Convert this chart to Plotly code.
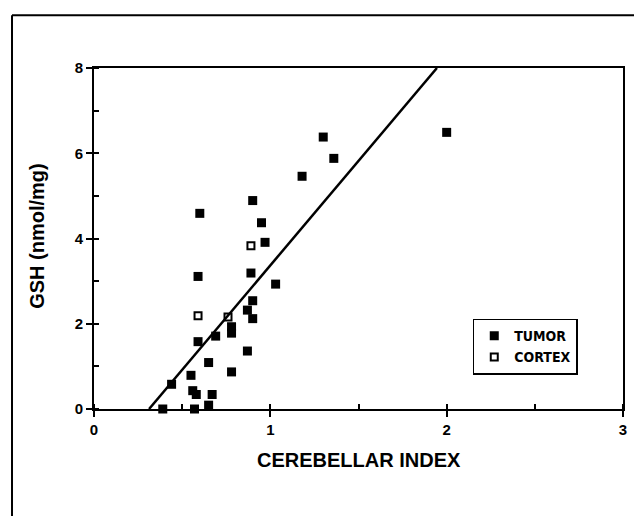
import plotly.graph_objects as go

# Data
tumor_x = [0.60, 0.90, 0.95, 0.97, 0.59, 0.89, 1.03, 0.90, 0.87, 0.90, 0.78, 0.78,
           0.69, 0.59, 0.87, 0.65, 0.78, 0.55, 0.44, 0.56, 0.58, 0.67, 0.65, 0.39,
           0.57, 1.30, 1.36, 1.18, 2.00]
tumor_y = [4.59, 4.89, 4.37, 3.91, 3.11, 3.19, 2.93, 2.54, 2.32, 2.12, 1.93, 1.78,
           1.71, 1.58, 1.36, 1.09, 0.87, 0.79, 0.58, 0.43, 0.34, 0.34, 0.09, 0.0,
           0.0, 6.38, 5.88, 5.46, 6.49]
cortex_x = [0.89, 0.59, 0.76]
cortex_y = [3.83, 2.19, 2.16]

# regression line y = slope * x + intercept
slope = 4.9
intercept = -1.53
y_ends = [0, 8]
line_x = [(y - intercept) / slope for y in y_ends]

x_ticks = [0, 1, 2, 3]
x_tick_labels = ["0", "1", "2", "3"]
y_ticks = [0, 2, 4, 6, 8]
y_tick_labels = ["0", "2", "4", "6", "8"]

FONT = "Liberation Sans"

fig = go.Figure()
fig.add_trace(go.Scatter(x=line_x, y=y_ends, mode="lines",
                         line=dict(color="black", width=2.5),
                         showlegend=False, cliponaxis=False))
fig.add_trace(go.Scatter(x=tumor_x, y=tumor_y, mode="markers", name="<b>TUMOR</b>",
                         marker=dict(symbol="square", size=9, color="black"),
                         cliponaxis=False))
fig.add_trace(go.Scatter(x=cortex_x, y=cortex_y, mode="markers", name="<b>CORTEX</b>",
                         marker=dict(symbol="square-open", size=7, color="black",
                                     line=dict(width=2, color="black")),
                         cliponaxis=False))

axis_common = dict(showline=True, linecolor="black", linewidth=2, mirror=True,
                   ticks="outside", ticklen=6, tickwidth=2, tickcolor="black",
                   showgrid=False, zeroline=False,
                   tickfont=dict(family=FONT, size=15, color="black"))

fig.update_xaxes(range=[0, 3], tickvals=x_ticks,
                 ticktext=["<b>%s</b>" % t for t in x_tick_labels],
                 minor=dict(dtick=0.5, ticks="inside", ticklen=5, tickwidth=2,
                            tickcolor="black", showgrid=False),
                 **axis_common)
fig.update_yaxes(range=[0, 8], tickvals=y_ticks,
                 ticktext=["<b>%s</b>" % t for t in y_tick_labels],
                 minor=dict(dtick=1, ticks="inside", ticklen=5, tickwidth=2,
                            tickcolor="black", showgrid=False),
                 **axis_common)

title_font = dict(family=FONT, size=20, color="black")

fig.update_layout(
    width=642, height=516,
    margin=dict(l=86, r=27, t=60, b=115),
    paper_bgcolor="white", plot_bgcolor="white",
    legend=dict(x=0.716, y=0.265, xanchor="left", yanchor="top",
                bordercolor="black", borderwidth=1.5, bgcolor="white",
                font=dict(family="DejaVu Sans Condensed, Liberation Sans", size=14,
                          color="black"),
                tracegroupgap=0),
    annotations=[
        dict(text="<b>CEREBELLAR INDEX</b>", xref="paper", yref="paper", x=0.5, y=-0.15,
             xanchor="center", yanchor="middle", showarrow=False, font=title_font),
        dict(text="<b>GSH (nmol/mg)</b>", xref="paper", yref="paper", x=-0.107, y=0.509,
             xanchor="center", yanchor="middle", showarrow=False, textangle=-90,
             font=title_font),
    ],
    shapes=[
        dict(type="line", xref="paper", yref="paper", x0=-0.155, x1=-0.155,
             y0=-0.35, y1=1.155, line=dict(color="black", width=2)),
        dict(type="line", xref="paper", yref="paper", x0=-0.155, x1=1.1,
             y0=1.155, y1=1.155, line=dict(color="black", width=2)),
    ],
)

fig.write_html("out.html")
